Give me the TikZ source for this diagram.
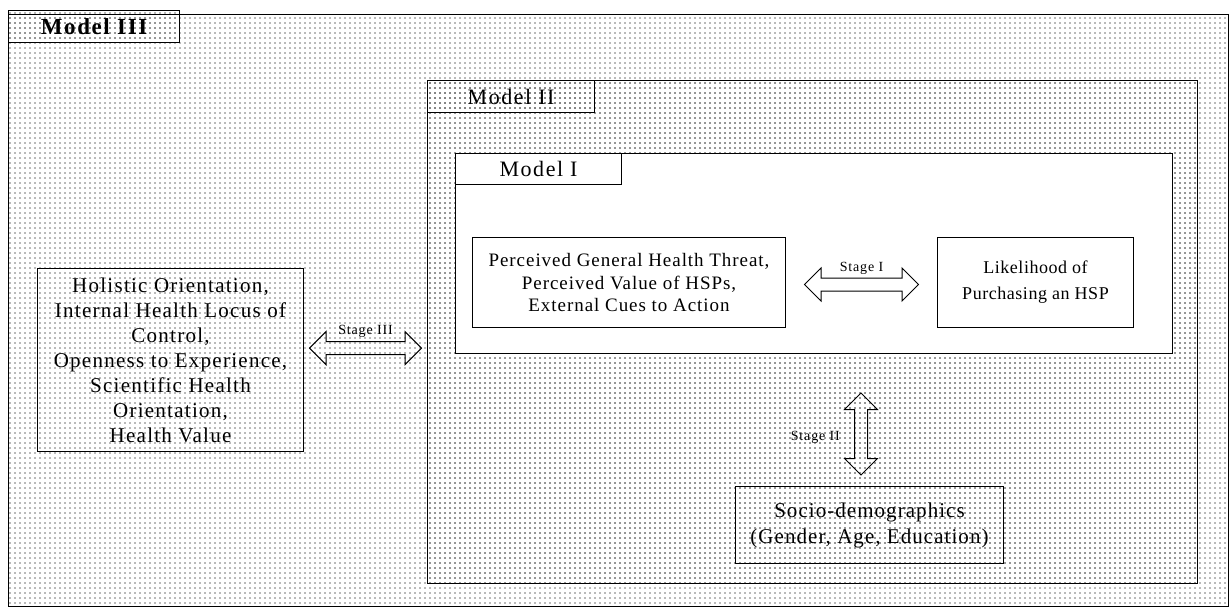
\documentclass[tikz,border=0pt]{standalone}
\usepackage{fontspec}
\setmainfont{Liberation Serif}
\usetikzlibrary{patterns.meta,shapes.arrows,calc}

\tikzset{
  dotfill/.style={pattern={Dots[distance=5pt,radius=0.9pt]}, pattern color=black!55},
  panel/.style={draw=black, line width=1.2pt, anchor=north west, inner sep=0pt},
  textbox/.style={draw=black, line width=1pt, anchor=north west, inner sep=0pt, align=center},
  tablabel/.style={font=\fontsize{22}{26}\selectfont\addfontfeatures{LetterSpace=7}},
  boldtablabel/.style={font=\fontsize{23}{26}\selectfont\bfseries\addfontfeatures{LetterSpace=7}},
  stagelabel/.style={font=\fontsize{14}{16}\selectfont\addfontfeatures{LetterSpace=6}, inner sep=1pt},
  blockarrow/.style={double arrow, draw=black, line width=1pt, inner xsep=0pt, inner ysep=6pt,
    double arrow head extend=10pt},
}

\begin{document}
\begin{tikzpicture}[x=1pt,y=-1pt]
\useasboundingbox (0,0) rectangle (1230,608);

% outer panel (Model III)
\node[panel, dotfill, minimum width=1220pt, minimum height=592pt] (m3) at (8,14) {};
\node[panel, dotfill, minimum width=171pt, minimum height=32pt, boldtablabel] (m3tab) at (8,10) {Model III};

% Model II panel
\node[panel, dotfill, minimum width=770pt, minimum height=503pt] (m2) at (427,80) {};
\node[panel, dotfill, minimum width=167pt, minimum height=32pt, tablabel] (m2tab) at (427,80) {Model II};

% Model I panel
\node[panel, fill=white, minimum width=717pt, minimum height=200pt] (m1) at (455,153) {};
\node[panel, fill=white, minimum width=166pt, minimum height=31pt, tablabel] (m1tab) at (455,153) {Model I};

% boxes inside Model I
\node[textbox, fill=white, minimum width=313pt, minimum height=90pt,
      font=\fontsize{19}{22.5}\selectfont\addfontfeatures{LetterSpace=5}] (threat) at (472,237)
  {Perceived General Health Threat,\\Perceived Value of HSPs,\\External Cues to Action};
\node[textbox, fill=white, minimum width=196pt, minimum height=90pt,
      font=\fontsize{18}{26}\selectfont\addfontfeatures{LetterSpace=3}] (likely) at (937,237)
  {Likelihood of\\Purchasing an HSP};

% personality / orientation box
\node[textbox, minimum width=266pt, minimum height=183pt,
      font=\fontsize{21}{25}\selectfont\addfontfeatures{LetterSpace=6}] (traits) at (37,268)
  {Holistic Orientation,\\Internal Health Locus of\\Control,\\Openness to Experience,\\Scientific Health\\Orientation,\\Health Value};

% socio-demographics box
\node[textbox, minimum width=268pt, minimum height=77pt,
      font=\fontsize{21}{26}\selectfont\addfontfeatures{LetterSpace=5}] (socio) at (735,486)
  {Socio-demographics\\(Gender, Age, Education)};

% stage arrows
\node[blockarrow, fill=white, minimum height=114pt] (s1) at ($(threat.east)!0.5!(likely.west)+(0,2)$) {};
\node[stagelabel, anchor=south] (s1lab) at ($(s1.center)+(0,-9)$) {Stage I};

\node[blockarrow, minimum height=112pt] (s3) at ($(traits.east)!0.5!(m2.west)+(0,2)$) {};
\node[stagelabel, anchor=south] (s3lab) at ($(s3.center)+(0,-9)$) {Stage III};

\node[blockarrow, minimum height=82pt, rotate=90] (s2) at (861,434) {};
\node[stagelabel, anchor=east] (s2lab) at ($(s2.center)+(-20,3)$) {Stage II};
\end{tikzpicture}
\end{document}
